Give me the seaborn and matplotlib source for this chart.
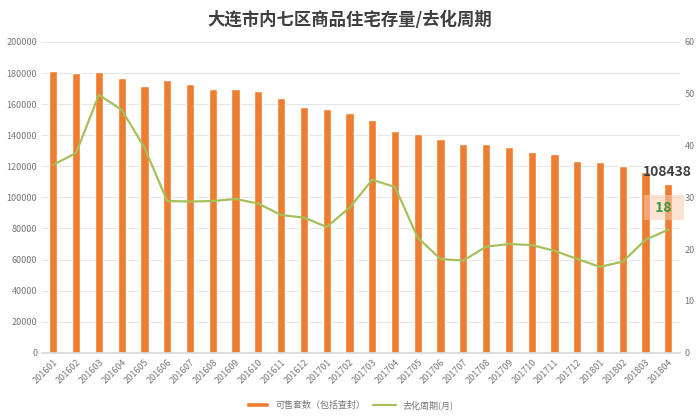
import seaborn as sns
import matplotlib.pyplot as plt
import numpy as np
import pandas as pd

months = ['201601', '201602', '201603', '201604', '201605', '201606', '201607',
          '201608', '201609', '201610', '201611', '201612', '201701', '201702',
          '201703', '201704', '201705', '201706', '201707', '201708', '201709',
          '201710', '201711', '201712', '201801', '201802', '201803', '201804']

units_for_sale = [181500, 180000, 180500, 176800, 171700, 175500, 173000,
                  170000, 169500, 168500, 164000, 158000, 157000, 154000,
                  149500, 143000, 140500, 137500, 134500, 134500, 132500,
                  129000, 128000, 123500, 122500, 120500, 116500, 108438]

cycle_months = [36.3, 38.6, 49.8, 46.9, 39.6, 29.3, 29.2,
                29.3, 29.7, 28.8, 26.6, 26.1, 24.3, 28.0,
                33.4, 32.0, 22.2, 18.1, 17.8, 20.5, 21.0,
                20.8, 19.7, 18.1, 16.6, 17.6, 21.8, 23.8]

bar_label = '可售套数（包括查封）'
line_label = '去化周期(月)'

df = pd.DataFrame({'month': months, 'units': units_for_sale, 'cycle': cycle_months})

sns.set_theme(style='white')
plt.rcParams['font.family'] = ['Noto Sans CJK SC', 'DejaVu Sans']

fig = plt.figure(figsize=(7, 4.2), dpi=100)
ax = fig.add_axes([0.06, 0.16, 0.911, 0.74])

orange = '#ed7d31'
green = '#a5c05a'

sns.barplot(data=df, x='month', y='units', color=orange, width=0.36,
            saturation=1, ax=ax, label=bar_label)
if ax.get_legend():
    ax.get_legend().remove()
ax.set_ylim(0, 200000)
ax.set_yticks(np.arange(0, 200001, 20000))
ax.yaxis.grid(True, color='#e6e6e6', linewidth=0.8)
ax.set_axisbelow(True)
ax.set_xlabel('')
ax.set_ylabel('')
ax.tick_params(axis='y', labelsize=6.5, colors='#777777', length=0)
ax.tick_params(axis='x', labelsize=6.5, colors='#777777', length=0, rotation=45)
for lbl in ax.get_xticklabels():
    lbl.set_ha('right')
    lbl.set_rotation_mode('anchor')
for s in ax.spines.values():
    s.set_visible(False)
ax.spines['bottom'].set_visible(True)
ax.spines['bottom'].set_color('#d9d9d9')

ax2 = ax.twinx()
sns.lineplot(x=np.arange(len(months)), y=df['cycle'], color=green, linewidth=1.6,
             ax=ax2, label=line_label, legend=False)
ax2.set_ylim(0, 60)
ax2.set_yticks(np.arange(0, 61, 10))
ax2.set_ylabel('')
ax2.tick_params(axis='y', labelsize=6.5, colors='#777777', length=0)
for s in ax2.spines.values():
    s.set_visible(False)
ax.set_xlim(-0.5, len(months) - 0.5)

# data labels on the last month
last = len(months) - 1
ax.text(last - 0.05, units_for_sale[-1] + 3500, f'{units_for_sale[-1]}', ha='center',
        va='bottom', fontsize=10, fontweight='bold', color='#404040')
ax2.text(last - 0.2, 28.0, '  18  ', ha='center', va='center', fontsize=10,
         fontweight='bold', color='#3a9a3a',
         bbox=dict(boxstyle='square,pad=0.4', fc='#f8cbad', ec='none', alpha=0.55))

h1, l1 = ax.get_legend_handles_labels()
h2, l2 = ax2.get_legend_handles_labels()
fig.legend(h1 + h2, l1 + l2, loc='lower center', bbox_to_anchor=(0.5, 0.005),
           ncol=2, frameon=False, fontsize=6.5, labelcolor='#777777',
           handlelength=2.5, handleheight=0.4, columnspacing=0.8)

fig.suptitle('大连市内七区商品住宅存量/去化周期', y=0.975, fontsize=12.5,
             fontweight='bold', color='#404040')

fig.savefig('out.png', dpi=100)
